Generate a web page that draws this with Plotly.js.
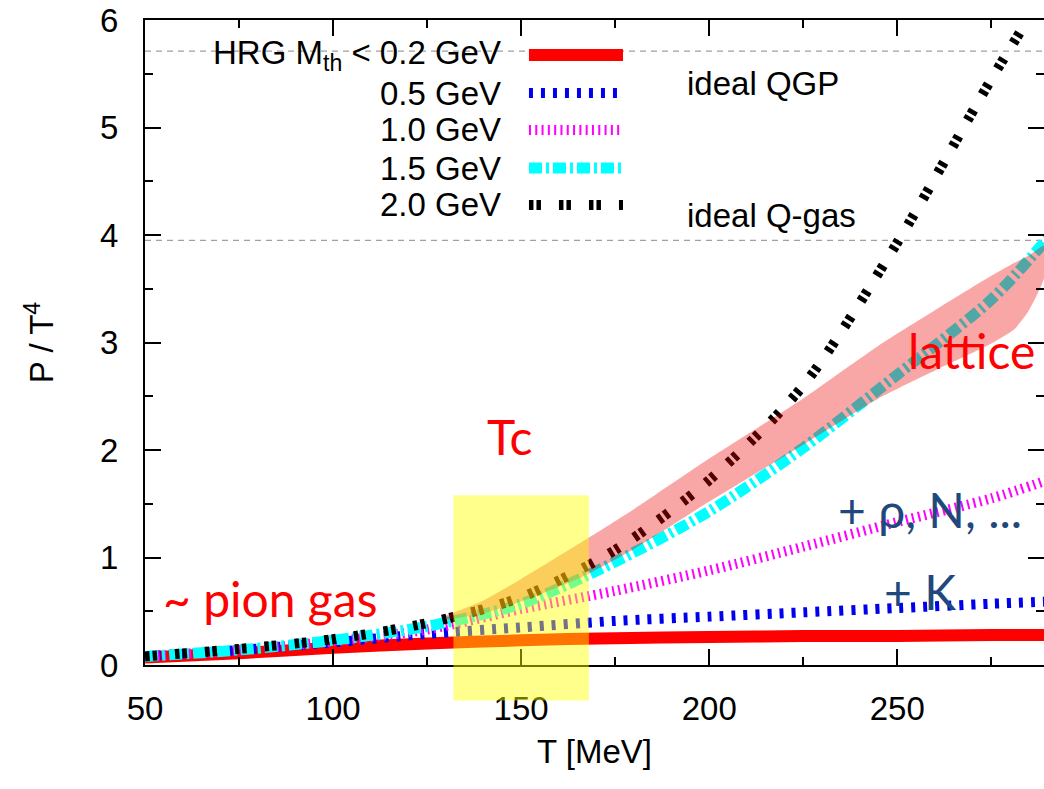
<!DOCTYPE html>
<html>
<head>
<meta charset="utf-8">
<script src="https://cdn.plot.ly/plotly-3.0.1.min.js"></script>
<style>html,body{margin:0;padding:0;background:#fff;overflow:hidden}</style>
</head>
<body>
<div id="chart" style="width:1044px;height:789px"></div>
<script>
// temperature grid [MeV]
const T = [50, 75, 100, 125, 150, 175, 200, 225, 250, 275, 290];
// HRG P/T^4 for different mass thresholds
const hrg02 = [0.07, 0.11, 0.16, 0.20, 0.23, 0.25, 0.26, 0.27, 0.27, 0.28, 0.28];
const hrg05 = [0.08, 0.14, 0.21, 0.29, 0.35, 0.41, 0.45, 0.49, 0.53, 0.57, 0.59];
const hrg10 = [0.08, 0.14, 0.22, 0.33, 0.52, 0.69, 0.88, 1.10, 1.33, 1.55, 1.72];
const hrg15 = [0.08, 0.14, 0.23, 0.36, 0.57, 0.96, 1.43, 2.02, 2.70, 3.40, 3.97];
const hrg20 = [0.08, 0.15, 0.24, 0.39, 0.63, 1.07, 1.72, 2.60, 3.93, 5.45, 6.30];
// lattice band
const Tlat = [130, 140, 150, 165, 180, 200, 225, 245, 260, 275, 281, 285, 289];
const latUpper = [0.46, 0.60, 0.80, 1.12, 1.45, 1.92, 2.48, 2.97, 3.30, 3.62, 3.74, 3.81, 3.90];
const latLower = [0.42, 0.48, 0.59, 0.80, 1.08, 1.52, 2.05, 2.48, 2.74, 2.99, 3.12, 3.30, 3.60];
// ideal gas limits
const idealQGP = 5.71;
const idealQgas = 3.95;
// Tc region
const TcRange = [132, 168];
const TcBoxTop = 1.58;
// legend
const legendLabels = ["HRG M<sub>th</sub> &lt; 0.2 GeV", "0.5 GeV", "1.0 GeV", "1.5 GeV", "2.0 GeV"];
const xTicks = [50, 100, 150, 200, 250];
const yTicks = [0, 1, 2, 3, 4, 5, 6];
const xRange = [50, 289];
const yRange = [0, 6];

const styles = [
  {color: '#ff0000', width: 12, dash: 'solid'},
  {color: '#0000ee', width: 10, dash: '4px,8px'},
  {color: '#ff00ff', width: 10, dash: '2px,4.3px'},
  {color: '#00ffff', width: 11, dash: '13px,4px,3px,4px'},
  {color: '#000000', width: 10, dash: '4.5px,3px,4.5px,18px'}
];
const series = [hrg02, hrg05, hrg10, hrg15, hrg20];

const traces = series.map((s, i) => ({
  x: T, y: s, type: 'scatter', mode: 'lines',
  line: {color: styles[i].color, width: styles[i].width, dash: styles[i].dash, shape: 'spline', smoothing: 0.8},
  showlegend: false, hoverinfo: 'skip'
}));
traces.push({
  x: Tlat.concat(Tlat.slice().reverse()),
  y: latUpper.concat(latLower.slice().reverse()),
  type: 'scatter', mode: 'lines', fill: 'toself',
  fillcolor: 'rgba(235,0,0,0.35)', line: {width: 0, shape: 'spline', smoothing: 0.6},
  showlegend: false, hoverinfo: 'skip'
});

const gfont = {family: 'Liberation Sans, Arial, sans-serif', size: 33, color: '#000'};
const tfont = {family: 'Liberation Sans, Arial, sans-serif', size: 33, color: '#000'};
const hfont = (c) => ({family: 'Lato, sans-serif', size: 48, color: c});

const shapes = [
  {type: 'line', xref: 'paper', x0: 0, x1: 1, yref: 'y', y0: idealQGP, y1: idealQGP, line: {color: '#a0a0a0', width: 1.3, dash: '6px,5px'}, layer: 'below'},
  {type: 'line', xref: 'paper', x0: 0, x1: 1, yref: 'y', y0: idealQgas, y1: idealQgas, line: {color: '#a0a0a0', width: 1.3, dash: '6px,5px'}, layer: 'below'},
  {type: 'rect', xref: 'x', x0: TcRange[0], x1: TcRange[1], yref: 'paper', y0: -0.055, y1: TcBoxTop / yRange[1],
   fillcolor: 'rgba(255,255,0,0.45)', line: {width: 0}, layer: 'above'}
];
const legRowY = [0.9457, 0.8868, 0.8295, 0.7705, 0.7132];
const annotations = [];
legendLabels.forEach((lab, i) => {
  annotations.push({xref: 'paper', yref: 'paper', x: 0.3982, y: legRowY[i], xanchor: 'right', yanchor: 'middle',
    text: lab, showarrow: false, font: gfont});
  shapes.push({type: 'line', xref: 'paper', yref: 'paper', x0: 0.4271, x1: 0.5317, y0: legRowY[i], y1: legRowY[i],
    line: {color: styles[i].color, width: styles[i].width, dash: styles[i].dash}});
});
annotations.push({xref: 'paper', yref: 'y', x: 0.6007, y: idealQGP - 0.3, xanchor: 'left', yanchor: 'middle', text: 'ideal QGP', showarrow: false, font: gfont});
annotations.push({xref: 'paper', yref: 'y', x: 0.6007, y: idealQgas + 0.23, xanchor: 'left', yanchor: 'middle', text: 'ideal Q-gas', showarrow: false, font: gfont});
annotations.push({x: 147, y: 2.13, text: 'Tc', showarrow: false, font: hfont('#ff0000')});
annotations.push({x: 83.2, y: 0.62, text: '~ pion gas', showarrow: false, font: hfont('#ff0000')});
annotations.push({x: 269.6, y: 2.93, text: 'lattice', showarrow: false, font: hfont('#ff0000')});
annotations.push({x: 258.7, y: 1.45, text: '+ ρ, N, ...', showarrow: false, font: hfont('#1F497D')});
annotations.push({x: 256, y: 0.68, text: '+ K', showarrow: false, font: hfont('#1F497D')});

const axisCommon = {
  showgrid: false, zeroline: false, showline: true, linecolor: '#000', linewidth: 2,
  mirror: 'ticks', ticks: 'inside', tickcolor: '#000', tickwidth: 2, ticklen: 16,
  tickfont: tfont
};
const layout = {
  width: 1044, height: 789,
  margin: {l: 145, r: 0, t: 20, b: 124},
  paper_bgcolor: '#fff', plot_bgcolor: '#fff',
  xaxis: Object.assign({}, axisCommon, {
    range: xRange, tickvals: xTicks, ticklabelstandoff: 13,
    minor: {dtick: 25, tick0: 50, ticks: 'inside', ticklen: 8, tickwidth: 2, tickcolor: '#000', showgrid: false},
    title: {text: 'T [MeV]', font: gfont, standoff: 14}
  }),
  yaxis: Object.assign({}, axisCommon, {
    range: yRange, tickvals: yTicks, ticklabelstandoff: 18,
    minor: {dtick: 0.5, tick0: 0, ticks: 'inside', ticklen: 8, tickwidth: 2, tickcolor: '#000', showgrid: false},
    title: {text: 'P / T<sup>4</sup>', font: gfont, standoff: 36}
  }),
  shapes: shapes,
  annotations: annotations,
  showlegend: false
};
Plotly.newPlot('chart', traces, layout, {staticPlot: true, displayModeBar: false});
</script>
</body>
</html>
